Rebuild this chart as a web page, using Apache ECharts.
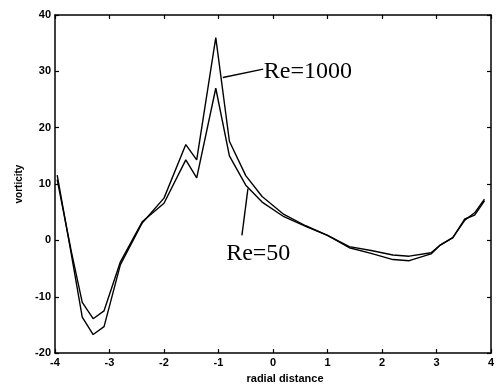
<!DOCTYPE html>
<html>
<head>
<meta charset="utf-8">
<script src="https://cdn.jsdelivr.net/npm/echarts@6/dist/echarts.min.js"></script>
<style>
  html, body { margin: 0; padding: 0; background: #fff; }
  #chart { width: 501px; height: 389px; }
</style>
</head>
<body>
<div id="chart"></div>
<script>
// radial positions (shared by both curves)
const radial = [-3.96, -3.7, -3.5, -3.3, -3.1, -2.8, -2.4, -2.0, -1.6, -1.4, -1.05, -0.8,
  -0.5, -0.2, 0.2, 0.6, 1.0, 1.4, 1.8, 2.2, 2.5, 2.9, 3.06, 3.3, 3.52, 3.7, 3.88];

const re1000 = [11.6, -2.5, -13.6, -16.7, -15.3, -4.3, 3.1, 7.5, 17.0, 14.3, 36.0, 17.6,
  11.5, 7.8, 4.6, 2.6, 0.9, -1.3, -2.3, -3.4, -3.6, -2.4, -0.9, 0.5, 3.8, 4.5, 7.0];

const re50 = [10.8, -2.0, -11.0, -13.9, -12.5, -3.8, 3.3, 6.6, 14.3, 11.1, 27.0, 15.0,
  9.8, 6.8, 4.2, 2.5, 0.9, -1.1, -1.8, -2.6, -2.8, -2.2, -0.9, 0.5, 3.6, 4.9, 7.3];

const xTicks = [-4, -3, -2, -1, 0, 1, 2, 3, 4];
const yTicks = [-20, -10, 0, 10, 20, 30, 40];

const pairs = (ys) => radial.map((x, i) => [x, ys[i]]);

const chart = echarts.init(document.getElementById('chart'));

const axisLine = { show: true, onZero: false, lineStyle: { color: '#000', width: 1.5 } };
const tick = { show: true, inside: true, length: 4, lineStyle: { color: '#000', width: 1.2 } };
const tickFont = { color: '#000', fontFamily: 'Liberation Sans', fontWeight: 'bold', fontSize: 11 };

const option = {
  animation: false,
  backgroundColor: '#fff',
  grid: { left: 55, right: 10, top: 15, bottom: 29 },
  xAxis: [
    {
      type: 'value', min: xTicks[0], max: xTicks[xTicks.length - 1], interval: 1, position: 'bottom',
      name: 'radial distance', nameLocation: 'middle', nameGap: 14,
      nameTextStyle: { color: '#000', fontFamily: 'Liberation Sans', fontWeight: 'bold', fontSize: 11, padding: [0, 0, 0, 24] },
      axisLine, axisTick: tick, splitLine: { show: false },
      axisLabel: Object.assign({ margin: 4 }, tickFont)
    },
    {
      type: 'value', min: xTicks[0], max: xTicks[xTicks.length - 1], interval: 1, position: 'top',
      axisLine, axisTick: tick, splitLine: { show: false }, axisLabel: { show: false }
    }
  ],
  yAxis: [
    {
      type: 'value', min: yTicks[0], max: yTicks[yTicks.length - 1], interval: 10, position: 'left',
      name: 'vorticity', nameLocation: 'middle', nameGap: 23,
      nameTextStyle: { color: '#000', fontFamily: 'Liberation Sans', fontWeight: 'bold', fontSize: 10 },
      axisLine, axisTick: tick, splitLine: { show: false },
      axisLabel: Object.assign({ margin: 4 }, tickFont)
    },
    {
      type: 'value', min: yTicks[0], max: yTicks[yTicks.length - 1], interval: 10, position: 'right',
      axisLine, axisTick: tick, splitLine: { show: false }, axisLabel: { show: false }
    }
  ],
  series: [
    {
      name: 'Re=1000', type: 'line', data: pairs(re1000),
      showSymbol: false, lineStyle: { color: '#000', width: 1.4 },
      markLine: {
        silent: true, symbol: 'none',
        lineStyle: { color: '#000', width: 1.4, type: 'solid' },
        label: { show: false },
        data: [[{ coord: [-0.92, 28.9] }, { coord: [-0.18, 30.4] }]]
      },
      markPoint: {
        silent: true, symbol: 'circle', symbolSize: 0,
        label: { show: true, position: 'right', distance: 0, formatter: 'Re=1000',
          color: '#000', fontFamily: 'Liberation Serif', fontSize: 24 },
        data: [{ coord: [-0.17, 30.0] }]
      }
    },
    {
      name: 'Re=50', type: 'line', data: pairs(re50),
      showSymbol: false, lineStyle: { color: '#000', width: 1.4 },
      markLine: {
        silent: true, symbol: 'none',
        lineStyle: { color: '#000', width: 1.4, type: 'solid' },
        label: { show: false },
        data: [[{ coord: [-0.46, 9.2] }, { coord: [-0.57, 0.9] }]]
      },
      markPoint: {
        silent: true, symbol: 'circle', symbolSize: 0,
        label: { show: true, position: 'right', distance: 0, formatter: 'Re=50',
          color: '#000', fontFamily: 'Liberation Serif', fontSize: 24 },
        data: [{ coord: [-0.86, -2.3] }]
      }
    }
  ]
};

chart.setOption(option);
</script>
</body>
</html>
